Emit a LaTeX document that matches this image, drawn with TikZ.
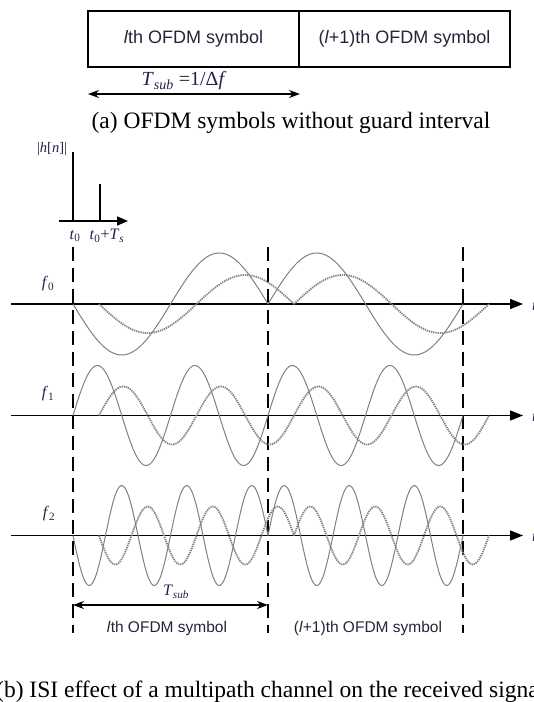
\documentclass[tikz,border=0pt]{standalone}
\usepackage{fontspec}
\setmainfont{Liberation Serif}
\newfontfamily\arialf{Liberation Sans}
\usetikzlibrary{arrows.meta}
\definecolor{navy}{rgb}{0.13,0.13,0.30}
\definecolor{inkdark}{rgb}{0.14,0.14,0.22}
\definecolor{wavegray}{rgb}{0.50,0.50,0.50}
\newcommand\ofdmwave[7]{% style, axis y, amp, start x, end x, cycles, sign
  \draw[#1] plot[domain=#4:#5, samples=140, smooth] (\x,{#2 - (#7)*#3*sin(360*#6*((\x-#4)/195))});}
\begin{document}
\begin{tikzpicture}[x=1pt,y=-1pt,
  boxcell/.style={draw, line width=1.4pt, inner sep=0pt, minimum height=56pt, text=inkdark, font=\arialf\fontsize{18}{20}\selectfont},
  sanslab/.style={font=\arialf\fontsize{15.5}{18}\selectfont, text=inkdark, inner sep=0pt},
  serlab/.style={font=\fontsize{16}{18}\selectfont, text=navy, inner sep=0pt},
  caption/.style={font=\fontsize{23.5}{26}\selectfont, inner sep=0pt},
  axisline/.style={line width=1.6pt, -{Triangle[length=13pt,width=10pt]}},
  dimarrow/.style={line width=1.2pt, {Stealth[length=11pt,width=8pt]}-{Stealth[length=11pt,width=8pt]}},
  symsep/.style={line width=1.8pt, dash pattern=on 14pt off 7pt},
  solidwave/.style={wavegray, line width=1pt},
  dotwave/.style={wavegray, line width=1.8pt, dash pattern=on 1.3pt off 0.9pt},
  stem/.style={line width=1.5pt}]
\useasboundingbox (0,0) rectangle (534,702);

% (a) OFDM symbols without guard interval
\node[boxcell, minimum width=211pt] (symA) at (193.5,39) {\textit{l}th OFDM symbol};
\node[boxcell, minimum width=211pt] (symB) at (404.5,39) {(\textit{l}+1)th OFDM symbol};
\coordinate (aL) at (88,94);
\coordinate (aR) at (300,94);
\draw[dimarrow] (aL) -- (aR);
\node[font=\fontsize{20}{22}\selectfont, text=navy, inner sep=0pt] (tsubA) at (184,81) {\textit{T}\textsubscript{\textit{sub}} =1/Δ\textit{f}};
\node[caption] (capA) at (291,123) {(a) OFDM symbols without guard interval};

% channel impulse response
\coordinate (hA) at (59,221);
\coordinate (hB) at (128,221);
\coordinate (s1b) at (73,221);
\coordinate (s1t) at (73,152);
\coordinate (s2b) at (100,221);
\coordinate (s2t) at (100,184);
\draw[stem] (s1b) -- (s1t);
\draw[stem] (s2b) -- (s2t);
\draw[line width=1.6pt, -{Triangle[length=11pt,width=9pt]}] (hA) -- (hB);
\node[font=\fontsize{14.5}{16}\selectfont, text=navy, inner sep=0pt] (hlab) at (52,149) {|\textit{h}[\textit{n}]|};
\node[serlab] (t0) at (75,236) {\textit{t}\textsubscript{0}};
\node[serlab] (t0s) at (107,236) {\textit{t}\textsubscript{0}+\textit{T}\textsubscript{\textit{s}}};

% symbol boundaries
\coordinate (d0t) at (73,247); \coordinate (d0b) at (73,633);
\coordinate (d1t) at (268,247); \coordinate (d1b) at (268,633);
\coordinate (d2t) at (463,247); \coordinate (d2b) at (463,633);
\draw[symsep] (d0t) -- (d0b);
\draw[symsep] (d1t) -- (d1b);
\draw[symsep] (d2t) -- (d2b);

% axes
\coordinate (x0a) at (11,304); \coordinate (x0b) at (523,304);
\coordinate (x1a) at (11,415.5); \coordinate (x1b) at (523,415.5);
\coordinate (x2a) at (11,535.5); \coordinate (x2b) at (523,535.5);
\draw[axisline] (x0a) -- (x0b);
\draw[axisline] (x1a) -- (x1b);
\draw[axisline] (x2a) -- (x2b);
\node[serlab, anchor=west] (tl0) at (532,306) {\textit{t}};
\node[serlab, anchor=west] (tl1) at (532,417.5) {\textit{t}};
\node[serlab, anchor=west] (tl2) at (532,537.5) {\textit{t}};

\node[serlab] (f0) at (48,284) {\textit{f}\textsubscript{0}};
\node[serlab] (f1) at (48,394) {\textit{f}\textsubscript{1}};
\node[serlab] (f2) at (49,514) {\textit{f}\textsubscript{2}};

% f0 waves
\ofdmwave{solidwave}{304}{51}{73}{268}{1}{-1}
\ofdmwave{solidwave}{304}{51}{268}{463}{1}{1}
\ofdmwave{dotwave}{304}{29}{99}{294}{1}{-1}
\ofdmwave{dotwave}{304}{29}{294}{489}{1}{1}
% f1 waves
\ofdmwave{solidwave}{415.5}{50}{73}{268}{2}{1}
\ofdmwave{solidwave}{415.5}{50}{268}{463}{2}{1}
\ofdmwave{dotwave}{415.5}{29}{99}{294}{2}{1}
\ofdmwave{dotwave}{415.5}{29}{294}{489}{2}{1}
% f2 waves
\ofdmwave{solidwave}{535.5}{50}{73}{268}{3}{-1}
\ofdmwave{solidwave}{535.5}{50}{268}{463}{3}{1}
\ofdmwave{dotwave}{535.5}{29}{99}{294}{3}{-1}
\ofdmwave{dotwave}{535.5}{29}{294}{489}{3}{1}

% bottom annotation
\coordinate (bL) at (73,605);
\coordinate (bR) at (268,605);
\draw[dimarrow] (bL) -- (bR);
\node[serlab] (tsubB) at (176,592) {\textit{T}\textsubscript{\textit{sub}}};
\node[sanslab] (labA) at (167,628) {\textit{l}th OFDM symbol};
\node[sanslab] (labB) at (368,628) {(\textit{l}+1)th OFDM symbol};
\node[caption, anchor=west] (capB) at (-4,692) {(b) ISI effect of a multipath channel on the received signal};
\end{tikzpicture}
\end{document}
